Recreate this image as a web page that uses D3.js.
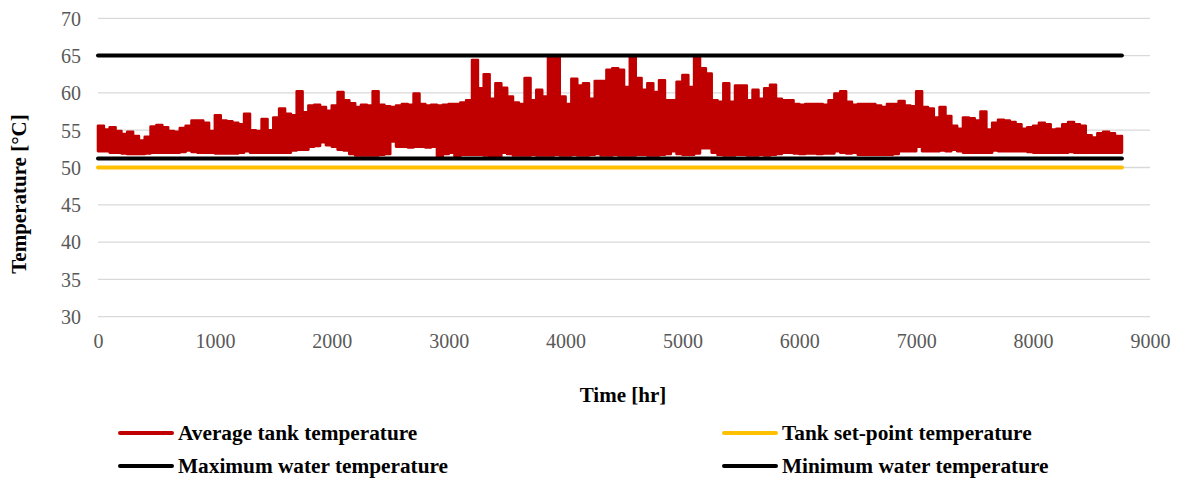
<!DOCTYPE html>
<html>
<head>
<meta charset="utf-8">
<script src="https://cdn.jsdelivr.net/npm/d3@7"></script>
<style>
  body { margin: 0; background: #fff; }
  text { font-family: "Liberation Serif", "Times New Roman", serif; }
</style>
</head>
<body>
<div id="chart"></div>
<script>
const width = 1177;
const height = 479;

// Axis ticks
const xTicks = [0, 1000, 2000, 3000, 4000, 5000, 6000, 7000, 8000, 9000];
const yTicks = [30, 35, 40, 45, 50, 55, 60, 65, 70];

// Average tank temperature, read off the picture as a band:
// highest and lowest value inside each 50 hr window (0 .. 8750 hr)
const binHours = 50;
const lastHour = 8760;
const tankHigh = [
  55.6, 55.1, 55.4, 54.9, 54.5, 54.8, 54.2, 53.6, 54.1, 55.5,
  55.7, 55.4, 54.9, 54.8, 55.3, 55.6, 56.3, 56.3, 56.0, 54.9,
  57.0, 56.3, 56.2, 56.0, 55.8, 57.2, 55.0, 54.9, 56.5, 55.0,
  56.7, 57.9, 57.2, 57.0, 60.2, 57.4, 58.3, 58.4, 58.1, 57.6,
  58.3, 60.1, 59.0, 58.6, 58.1, 58.4, 58.3, 60.2, 58.4, 58.2,
  58.1, 58.3, 58.5, 58.4, 59.9, 58.5, 58.3, 58.4, 58.3, 58.4,
  58.5, 58.5, 58.7, 59.0, 64.4, 60.6, 62.5, 59.2, 61.3, 60.7,
  59.5, 58.7, 58.5, 62.0, 59.0, 60.4, 59.5, 64.8, 64.8, 59.5,
  58.5, 61.9, 61.0, 61.3, 59.2, 61.6, 61.6, 63.1, 63.3, 63.1,
  60.8, 64.8, 62.0, 60.4, 61.3, 60.1, 61.7, 59.0, 59.0, 61.5,
  62.4, 60.8, 64.8, 63.3, 62.6, 59.0, 58.8, 61.3, 58.8, 61.0,
  61.0, 59.0, 60.4, 59.2, 60.6, 61.1, 59.2, 59.0, 59.0, 58.5,
  58.4, 58.5, 58.5, 58.5, 58.4, 59.0, 59.9, 60.2, 58.8, 58.4,
  58.5, 58.5, 58.5, 58.3, 58.1, 58.5, 58.5, 58.9, 58.3, 58.2,
  60.2, 58.1, 57.9, 56.7, 58.1, 56.9, 55.6, 55.2, 56.7, 56.6,
  56.3, 57.5, 55.1, 56.0, 56.4, 56.3, 56.1, 55.8, 55.2, 55.4,
  55.6, 56.0, 55.8, 55.1, 55.2, 55.8, 56.1, 55.8, 55.6, 54.3,
  54.0, 54.6, 54.8, 54.6, 54.2, 54.2
];
const tankLow = [
  52.2, 52.2, 52.0, 52.0, 51.9, 51.8, 51.8, 51.8, 51.9, 52.0,
  52.0, 52.0, 52.0, 52.0, 52.1, 52.3, 52.1, 52.0, 52.0, 52.0,
  51.9, 51.9, 51.9, 51.9, 52.0, 52.2, 52.0, 52.0, 52.0, 52.0,
  52.0, 52.0, 52.0, 52.3, 52.4, 52.4, 52.8, 52.9, 53.4, 53.0,
  52.8, 52.4, 52.3, 51.8, 51.6, 51.6, 51.6, 51.6, 51.7, 51.8,
  53.5, 52.8, 52.8, 52.7, 52.8, 52.8, 52.7, 52.8, 51.4, 51.8,
  52.0, 51.5, 51.7, 51.7, 51.7, 51.7, 51.6, 51.4, 51.5, 52.0,
  51.8, 51.6, 51.6, 51.6, 51.7, 51.6, 51.6, 51.6, 51.7, 51.6,
  51.6, 51.7, 51.6, 51.6, 51.7, 51.8, 51.6, 51.6, 51.7, 51.6,
  51.6, 51.6, 51.7, 51.7, 51.6, 51.6, 51.7, 51.8, 52.2, 51.8,
  51.7, 51.7, 51.9, 52.6, 52.6, 52.0, 51.7, 51.6, 51.6, 51.7,
  51.7, 51.6, 51.6, 51.7, 51.6, 51.7, 51.8, 52.0, 52.0, 51.9,
  51.8, 51.9, 51.9, 51.8, 51.9, 51.9, 52.2, 52.0, 51.9, 52.0,
  51.7, 51.7, 51.7, 51.7, 51.7, 51.7, 51.8, 52.2, 52.2, 52.2,
  52.8, 52.2, 52.2, 52.2, 52.3, 52.2, 52.4, 52.2, 52.0, 52.0,
  52.0, 52.0, 52.0, 52.3, 52.2, 52.2, 52.2, 52.2, 52.2, 52.1,
  52.0, 52.0, 52.0, 52.0, 52.0, 52.0, 52.1, 52.0, 52.0, 52.0,
  52.0, 52.0, 52.0, 52.0, 52.0, 52.0
];

// Constant lines
const setPointTemp = 50;
const maxWaterTemp = 65;
const minWaterTemp = 51.2;

const legendItems = [
  { label: "Average tank temperature", color: "#C00000" },
  { label: "Tank set-point temperature", color: "#FFC000" },
  { label: "Maximum water temperature", color: "#000000" },
  { label: "Minimum water temperature", color: "#000000" }
];

const svg = d3.select("#chart").append("svg")
    .attr("width", width)
    .attr("height", height);

const x = d3.scaleLinear().domain([0, 9000]).range([98, 1150]);
const y = d3.scaleLinear().domain([30, 70]).range([316.7, 18.3]);

// gridlines
svg.append("g")
  .selectAll("line")
  .data(yTicks)
  .join("line")
    .attr("x1", x(0)).attr("x2", x(9000))
    .attr("y1", d => y(d)).attr("y2", d => y(d))
    .attr("stroke", "#D9D9D9")
    .attr("stroke-width", 1.3);

// y axis labels
const yAxis = svg.append("g")
    .attr("transform", "translate(81,0)")
    .call(d3.axisLeft(y).tickValues(yTicks).tickSize(0).tickPadding(0));
yAxis.select(".domain").remove();
yAxis.selectAll("text")
    .attr("font-family", "Liberation Serif, Times New Roman, serif")
    .attr("font-size", 20)
    .attr("fill", "#595959")
    .attr("dy", "0.34em");

// x axis labels
const xAxis = svg.append("g")
    .attr("transform", `translate(0,${y(30) + 17})`)
    .call(d3.axisBottom(x).tickValues(xTicks).tickFormat(d3.format("d")).tickSize(0).tickPadding(0));
xAxis.select(".domain").remove();
xAxis.selectAll("text")
    .attr("font-family", "Liberation Serif, Times New Roman, serif")
    .attr("font-size", 20)
    .attr("fill", "#595959");

// average tank temperature band
const tankData = tankHigh.map((hi, i) => ({ h: i * binHours, hi: hi, lo: tankLow[i] }));
tankData.push({ h: lastHour, hi: tankHigh[tankHigh.length - 1], lo: tankLow[tankLow.length - 1] });

const band = d3.area()
    .x(d => x(d.h))
    .y0(d => y(d.lo))
    .y1(d => y(d.hi))
    .curve(d3.curveStepAfter);

svg.append("path")
    .datum(tankData)
    .attr("d", band)
    .attr("fill", "#C00000")
    .attr("stroke", "#C00000")
    .attr("stroke-width", 2.6)
    .attr("stroke-linejoin", "round");

// flat reference lines
const flat = [
  { v: setPointTemp, color: "#FFC000" },
  { v: maxWaterTemp, color: "#000000" },
  { v: minWaterTemp, color: "#000000" }
];
const line = d3.line().x(d => x(d[0])).y(d => y(d[1]));
svg.append("g")
  .selectAll("path")
  .data(flat)
  .join("path")
    .attr("d", d => line([[0, d.v], [lastHour, d.v]]))
    .attr("fill", "none")
    .attr("stroke", d => d.color)
    .attr("stroke-width", 4)
    .attr("stroke-linecap", "round");

// axis titles
svg.append("text")
    .attr("x", 623)
    .attr("y", 402)
    .attr("text-anchor", "middle")
    .attr("font-size", 21)
    .attr("font-weight", "bold")
    .text("Time [hr]");

svg.append("text")
    .attr("transform", "translate(25.6,194) rotate(-90)")
    .attr("text-anchor", "middle")
    .attr("font-size", 21)
    .attr("font-weight", "bold")
    .text("Temperature [°C]");

// legend
const legendCols = [120, 724];
const legendRows = [433, 466];
const lg = svg.append("g")
  .selectAll("g")
  .data(legendItems)
  .join("g")
    .attr("transform", (d, i) => `translate(${legendCols[i % 2]},${legendRows[Math.floor(i / 2)]})`);
lg.append("line")
    .attr("x1", 0).attr("x2", 52)
    .attr("stroke", d => d.color)
    .attr("stroke-width", 4)
    .attr("stroke-linecap", "round");
lg.append("text")
    .attr("x", 58)
    .attr("dy", "0.33em")
    .attr("font-size", 21.3)
    .attr("font-weight", "bold")
    .text(d => d.label);
</script>
</body>
</html>
